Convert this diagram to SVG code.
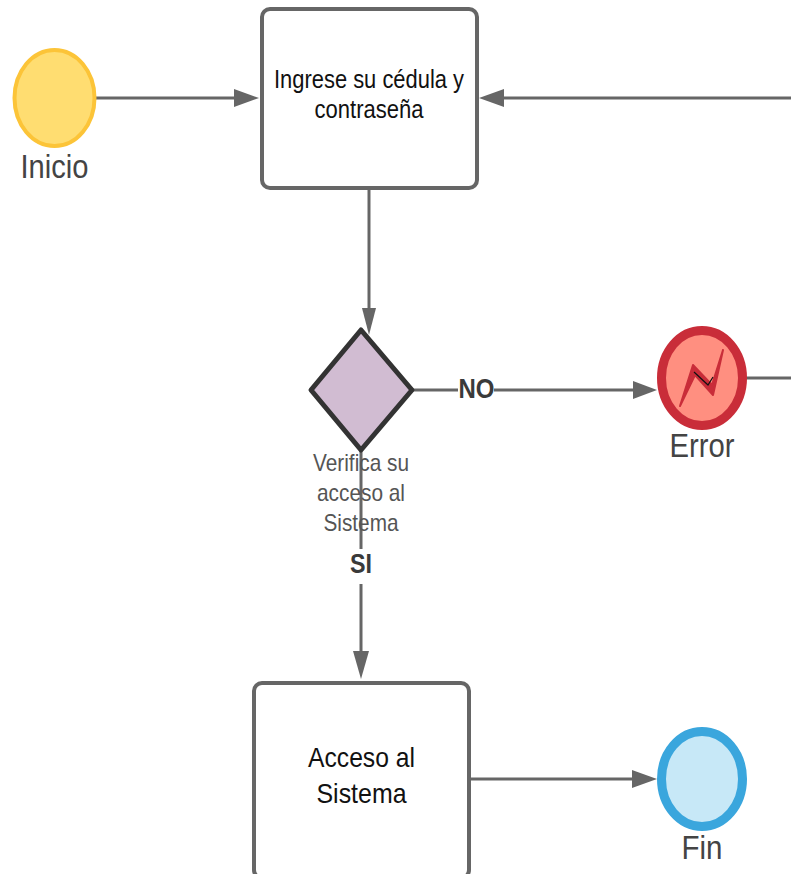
<svg xmlns="http://www.w3.org/2000/svg" width="791" height="874" viewBox="0 0 791 874">
<style>
text{font-family:"Liberation Sans",Arial,sans-serif;text-anchor:middle}
.c{fill:none;stroke:#666;stroke-width:3}
.h{fill:#666}
.box{fill:#fff;stroke:#666;stroke-width:4}
.lbl{fill:#444;font-size:33px}
.dark{fill:#111;font-size:25px}
.big{fill:#111;font-size:28px}
.cap{fill:#555;font-size:24px}
.b{fill:#3a3a3a;font-size:27px;font-weight:bold}
</style>
<rect width="791" height="874" fill="#fff"/>
<g id="connectors">
<path class="c" d="M96 98H238"/><path class="h" d="M234 89L259 98L234 107Z"/>
<path class="c" d="M791 98H500"/><path class="h" d="M504 89L479 98L504 107Z"/>
<path class="c" d="M369 188V312"/><path class="h" d="M362 308L369 335L376 308Z"/>
<path class="c" d="M412 390H458M494 390H636"/><path class="h" d="M633 381L657 390L633 399Z"/>
<path class="c" d="M746 378H791"/>
<path class="c" d="M361 450V549M361 584V655"/><path class="h" d="M353 651L361 679L369 651Z"/>
<path class="c" d="M469 779H636"/><path class="h" d="M632 770L657 779L632 788Z"/>
</g>
<g id="inicio"><ellipse cx="54.500" cy="98" rx="40" ry="48" fill="#ffdd71" stroke="#fcc438" stroke-width="4"/><text class="lbl" x="54.500" y="178" textLength="68" lengthAdjust="spacingAndGlyphs">Inicio</text></g>
<g id="ingrese"><rect class="box" x="262" y="9" width="215" height="179" rx="8"/><text class="dark" x="369" y="88" textLength="190" lengthAdjust="spacingAndGlyphs">Ingrese su cédula y</text><text class="dark" x="369" y="118" textLength="109" lengthAdjust="spacingAndGlyphs">contraseña</text></g>
<g id="verifica"><path d="M361 330L412 390L361 450L311 390Z" fill="#d1bcd2" stroke="#333" stroke-width="5" stroke-linejoin="round"/><text class="cap" x="361" y="471" textLength="96" lengthAdjust="spacingAndGlyphs">Verifica su</text><text class="cap" x="361" y="501" textLength="88" lengthAdjust="spacingAndGlyphs">acceso al</text><text class="cap" x="361" y="531" textLength="75" lengthAdjust="spacingAndGlyphs">Sistema</text></g>
<g id="no-label"><text class="b" x="476.500" y="398" textLength="36" lengthAdjust="spacingAndGlyphs">NO</text></g>
<g id="si-label"><text class="b" x="361" y="573" textLength="22" lengthAdjust="spacingAndGlyphs">SI</text></g>
<g id="error"><ellipse cx="702" cy="378" rx="40.500" ry="47.500" fill="#ff8f80" stroke="#c92d39" stroke-width="9"/><path d="M680 406L693 365L712 385L723 350L713 395L695 375Z" fill="#c92d39" stroke="#c92d39" stroke-width="2" stroke-linejoin="round"/><path d="M694 372L708 385L713 377" fill="none" stroke="#111" stroke-width="1.200"/><text class="lbl" x="702" y="457" textLength="65" lengthAdjust="spacingAndGlyphs">Error</text></g>
<g id="acceso"><rect class="box" x="254" y="683" width="215" height="195" rx="8"/><text class="big" x="361.500" y="767" textLength="107" lengthAdjust="spacingAndGlyphs">Acceso al</text><text class="big" x="361.500" y="803" textLength="90" lengthAdjust="spacingAndGlyphs">Sistema</text></g>
<g id="fin"><ellipse cx="702" cy="779" rx="40.500" ry="47.500" fill="#c7e8f7" stroke="#3aa6dd" stroke-width="9"/><text class="lbl" x="702" y="859" textLength="41" lengthAdjust="spacingAndGlyphs">Fin</text></g>
</svg>
